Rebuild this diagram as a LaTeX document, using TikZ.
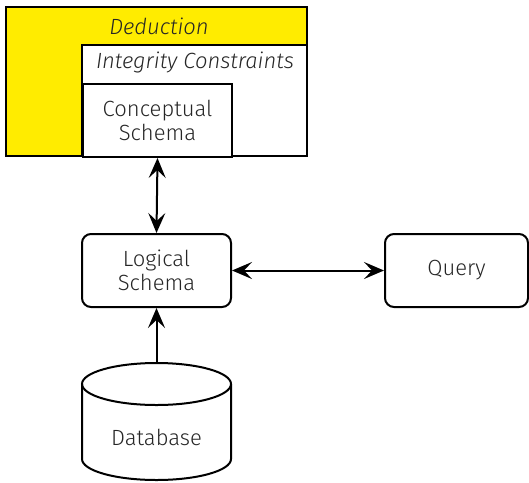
\documentclass[tikz,border=0pt]{standalone}
\usepackage{fontspec}
\setmainfont{Fira Sans}[UprightFont=* Light, ItalicFont=* Light Italic]
\usetikzlibrary{arrows.meta}
\definecolor{dedyellow}{RGB}{255,236,0}
\begin{document}
\begin{tikzpicture}[x=1pt,y=-1pt,
  line width=2pt,
  lbl/.style={font=\fontsize{22}{24}\selectfont, align=center, text=black!85, inner sep=0pt},
  ilbl/.style={lbl, font=\fontsize{22}{24}\selectfont\itshape},
  rbox/.style={draw, rounded corners=9pt, minimum height=73pt},
  tip/.style={-{Stealth[length=20pt,width=17pt,inset=8pt]}},
  dtip/.style={{Stealth[length=20pt,width=17pt,inset=8pt]}-{Stealth[length=20pt,width=17pt,inset=8pt]}}]
\useasboundingbox (0,0) rectangle (529,482);
% nested layers: deduction, integrity constraints, conceptual schema
\filldraw[fill=dedyellow] (6,7) rectangle (307,156);
\filldraw[fill=white] (82,45) rectangle (307,156);
\node[draw, fill=white, minimum width=149pt, minimum height=73pt, anchor=north west, lbl, inner sep=0pt] (cs) at (82,83) {Conceptual\\Schema};
\node[ilbl] (ded) at (159,26) {Deduction};
\node[ilbl] (ic) at (195,62) {Integrity Constraints};
% logical level and query
\node[rbox, minimum width=149pt, lbl] (ls) at (156.5,270.5) {Logical\\Schema};
\node[rbox, minimum width=143pt, lbl] (q) at (456.5,270.5) {Query};
% database cylinder
\draw (82,384) -- (82,459) arc[start angle=180, end angle=0, x radius=74.5, y radius=21] -- (231,384);
\draw (156.5,384) ellipse[x radius=74.5, y radius=21];
\coordinate (dbtop) at (156.5,363);
\node[lbl] (db) at (156.5,437) {Database};
% connectors
\draw[dtip] (cs.south) -- (ls.north);
\draw[dtip] (ls.east) -- (q.west);
\draw[tip] (dbtop) -- (ls.south);
\end{tikzpicture}
\end{document}
